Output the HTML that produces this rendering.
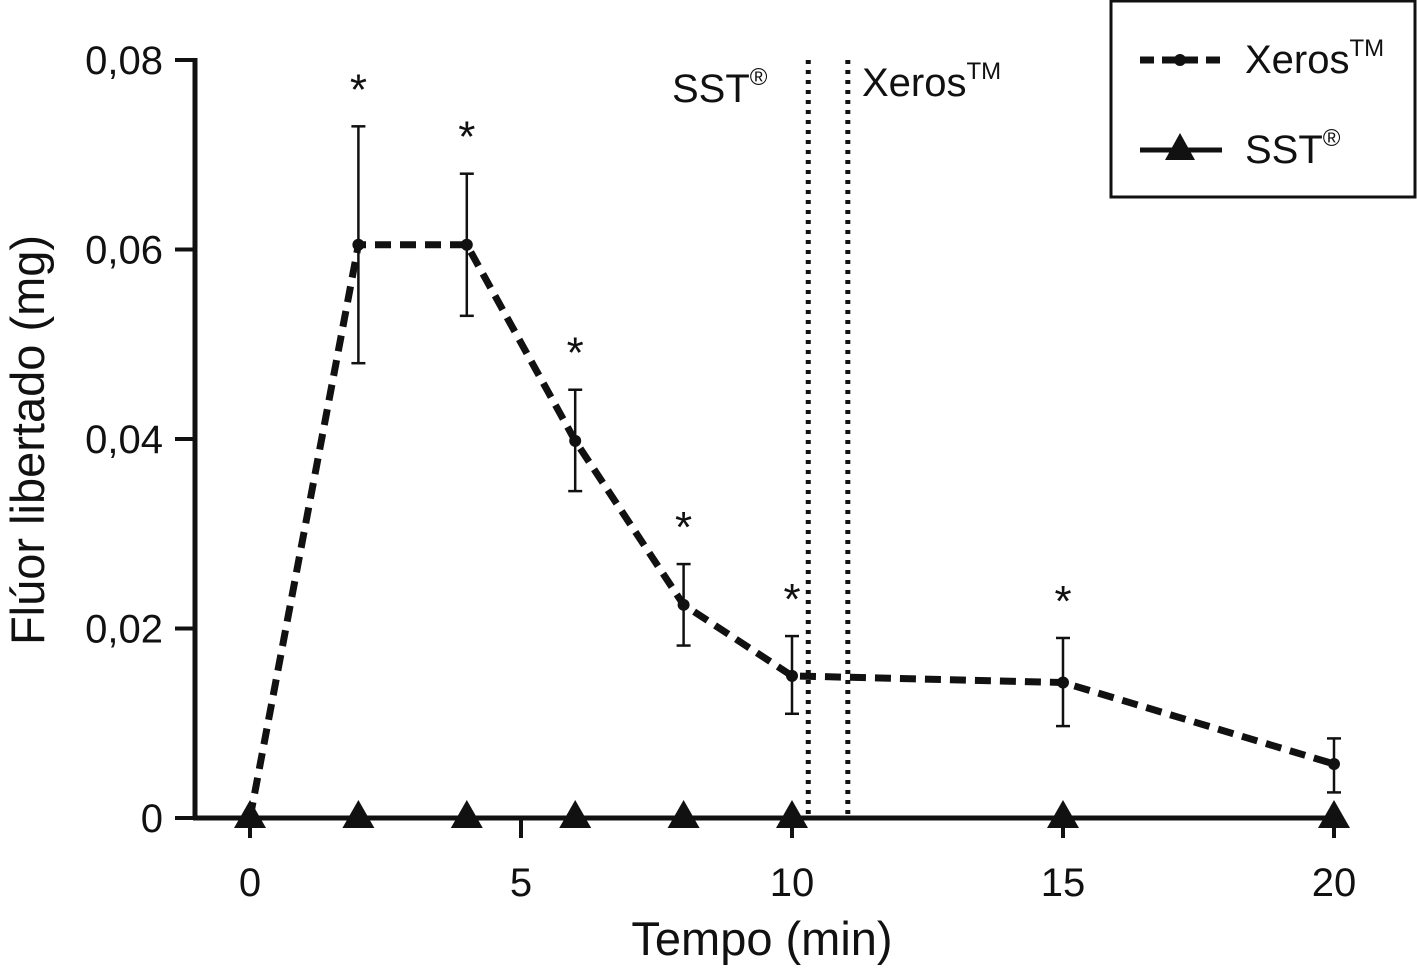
<!DOCTYPE html>
<html><head><meta charset="utf-8"><style>
body{margin:0;background:#fff}
svg text{font-family:"Liberation Sans",Arial,sans-serif;fill:#111}
</style></head><body>
<svg width="1417" height="967" viewBox="0 0 1417 967">
<g id="axes"></g><g id="marks"></g>
<text x="762" y="955" font-size="47" text-anchor="middle">Tempo (min)</text>
<text transform="translate(44,440) rotate(-90)" font-size="47" text-anchor="middle">Flúor libertado (mg)</text>
<text x="672" y="102" font-size="40">SST<tspan font-size="24" dy="-17">®</tspan></text>
<text x="862" y="96" font-size="40">Xeros<tspan font-size="24" dy="-17">TM</tspan></text>
<g>
<rect x="1111" y="1" width="304" height="196" fill="#fff" stroke="#111" stroke-width="3"/>
<g>
<line x1="1140" y1="60" x2="1222" y2="60" stroke="#111" stroke-width="7" stroke-dasharray="14,8"/>
<circle cx="1180" cy="60" r="6" fill="#111"/>
<text x="1245" y="73" font-size="40">Xeros<tspan font-size="24" dy="-17">TM</tspan></text></g>
<g>
<line x1="1140" y1="150" x2="1222" y2="150" stroke="#111" stroke-width="5"/>
<polygon points="1180,133 1195,160 1165,160" fill="#111"/>
<text x="1245" y="163" font-size="40">SST<tspan font-size="24" dy="-17">®</tspan></text></g>
</g>
</svg>
<script>
const times=[0,2,4,6,8,10,15,20];
const xerosVals=[0,0.0605,0.0605,0.0398,0.0225,0.015,0.0143,0.0057];
const xerosLow=[0,0.048,0.053,0.0345,0.0182,0.011,0.0097,0.0027];
const xerosHigh=[0,0.073,0.068,0.0452,0.0268,0.0192,0.019,0.0084];
const sstVals=[0,0,0,0,0,0,0,0];
const sigTimes=[2,4,6,8,10,15];
const splitLines=[10.3,11.03];
const xTicks=[0,5,10,15,20];
const yTicks=[0,0.02,0.04,0.06,0.08];
const yLabels=["0","0,02","0,04","0,06","0,08"];
const X=t=>250+t*54.2;
const Y=v=>818-v*9475;
const NS="http://www.w3.org/2000/svg";
function mk(p,tag,a){const e=document.createElementNS(NS,tag);for(const k in a)e.setAttribute(k,a[k]);p.appendChild(e);return e;}
const ax=document.getElementById('axes'),mk2=document.getElementById('marks');
let e=mk(ax,'line',{x1:195,y1:58,x2:195,y2:820,stroke:'#111','stroke-width':5});


e=mk(ax,'line',{x1:193,y1:818,x2:1342,y2:818,stroke:'#111','stroke-width':5});


yTicks.forEach((v,i)=>{mk(ax,'line',{x1:175,y1:Y(v),x2:195,y2:Y(v),stroke:'#111','stroke-width':4});
const t=mk(ax,'text',{x:163,y:Y(v)+14,'font-size':40,'text-anchor':'end'});t.textContent=yLabels[i];

});
xTicks.forEach(v=>{mk(ax,'line',{x1:X(v),y1:818,x2:X(v),y2:838,stroke:'#111','stroke-width':4});
const t=mk(ax,'text',{x:X(v),y:896,'font-size':40,'text-anchor':'middle'});t.textContent=v;

});
splitLines.forEach(v=>{const l=mk(mk2,'line',{x1:X(v),y1:60,x2:X(v),y2:818,stroke:'#111','stroke-width':5,'stroke-dasharray':'4,6'});

});
const path=mk(mk2,'polyline',{points:times.map((t,i)=>X(t)+','+Y(xerosVals[i])).join(' '),fill:'none',stroke:'#111','stroke-width':7,'stroke-dasharray':'16,9'});


times.forEach((t,i)=>{if(xerosHigh[i]>xerosLow[i]){const g=mk(mk2,'g',{stroke:'#111','stroke-width':2.5});


mk(g,'line',{x1:X(t),y1:Y(xerosLow[i]),x2:X(t),y2:Y(xerosLow[i])===Y(xerosHigh[i])?0:Y(xerosHigh[i])});
mk(g,'line',{x1:X(t)-7,y1:Y(xerosLow[i]),x2:X(t)+7,y2:Y(xerosLow[i])});
mk(g,'line',{x1:X(t)-7,y1:Y(xerosHigh[i]),x2:X(t)+7,y2:Y(xerosHigh[i])});}
const c=mk(mk2,'circle',{cx:X(t),cy:Y(xerosVals[i]),r:6,fill:'#111'});

});
times.forEach((t,i)=>{const x=X(t),y=Y(sstVals[i]);
const p=mk(mk2,'polygon',{points:`${x},${y-18} ${x+16},${y+10} ${x-16},${y+10}`,fill:'#111'});

});
sigTimes.forEach(t=>{const i=times.indexOf(t);const s=mk(mk2,'text',{x:X(t),y:Y(xerosHigh[i])-22,'font-size':44,'text-anchor':'middle'});s.textContent='*';

});
</script>
</body></html>
